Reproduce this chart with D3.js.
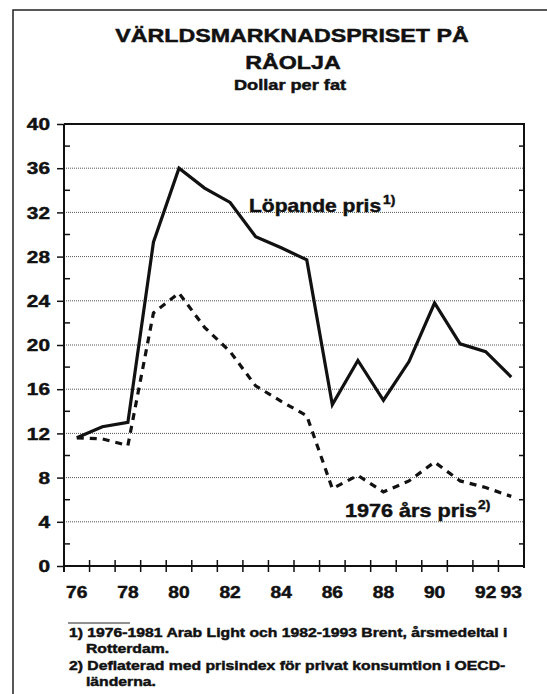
<!DOCTYPE html>
<html>
<head>
<meta charset="utf-8">
<script src="https://cdn.jsdelivr.net/npm/d3@7"></script>
<style>
body { margin: 0; background: #fff; }
text { font-family: "Liberation Sans", Arial, Helvetica, sans-serif; font-weight: bold; fill: #111; stroke: #111; stroke-width: 0.45px; }
</style>
</head>
<body>
<svg id="chart" width="547" height="694"></svg>
<script>
// data
var years = ["76","77","78","79","80","81","82","83","84","85","86","87","88","89","90","91","92","93"];
var lopandePris = [11.6, 12.6, 13.0, 29.3, 36.0, 34.2, 32.9, 29.8, 28.8, 27.7, 14.6, 18.6, 15.0, 18.5, 23.8, 20.1, 19.4, 17.1];
var fastPris = [11.6, 11.5, 10.9, 22.9, 24.7, 21.6, 19.4, 16.3, 14.9, 13.6, 7.0, 8.2, 6.7, 7.7, 9.4, 7.7, 7.1, 6.3];
var xTickLabels = ["76","78","80","82","84","86","88","90","92","93"];
var yTicks = [0, 4, 8, 12, 16, 20, 24, 28, 32, 36, 40];
var yMinorTicks = [2, 6, 10, 14, 18, 22, 26, 30, 34, 38];
var gridValues = [4, 8, 12, 16, 20, 24, 28, 32, 36];
var titleLines = ["VÄRLDSMARKNADSPRISET PÅ", "RÅOLJA"];
var subtitle = "Dollar per fat";
var footnotes = [
  "1) 1976-1981 Arab Light och 1982-1993 Brent, årsmedeltal i",
  "Rotterdam.",
  "2) Deflaterad med prisindex för privat konsumtion i OECD-",
  "länderna."
];

var svg = d3.select("#chart");
// plot box (don't call these top/left, window.top is taken)
var plotL = 64, plotR = 524, plotT = 124, plotB = 566;

var x = d3.scaleBand().domain(years).range([plotL, plotR]);
var y = d3.scaleLinear().domain([0, 40]).range([plotB, plotT]);
var cx = function (d) { return x(d) + x.bandwidth() / 2; };

// text drawn a bit wider, like the scanned original
function stretchedText(str, tx, ty, size, k, anchor) {
  return svg.append("text")
    .attr("transform", "translate(" + tx + "," + ty + ") scale(" + k + ",1)")
    .attr("font-size", size + "px")
    .attr("text-anchor", anchor || "start")
    .text(str);
}

// outer frame (left and top only, the rest is cut off)
svg.append("path")
  .attr("d", "M13,694 L13,10 L547,10")
  .attr("stroke", "#222")
  .attr("stroke-width", 1.5)
  .attr("fill", "none");

// titles
stretchedText(titleLines[0], 292, 42, 18, 1.29, "middle");
stretchedText(titleLines[1], 293, 69, 18, 1.29, "middle");
stretchedText(subtitle, 290, 90, 14, 1.3, "middle");

// dotted grid lines
svg.selectAll(".grid")
  .data(gridValues)
  .enter()
  .append("line")
  .attr("x1", plotL)
  .attr("x2", plotR)
  .attr("y1", d => y(d))
  .attr("y2", d => y(d))
  .attr("stroke", "#555")
  .attr("stroke-width", 1)
  .attr("stroke-dasharray", "1,1");

// plot top and right border
svg.append("path")
  .attr("d", `M ${plotL},${plotT} L ${plotR},${plotT} L ${plotR},${plotB + 2}`)
  .attr("stroke", "#111")
  .attr("stroke-width", 2)
  .attr("fill", "none");

// right side minor ticks pointing inwards
svg.selectAll(".rtick")
  .data(yMinorTicks)
  .enter()
  .append("line")
  .attr("x1", plotR - 5)
  .attr("x2", plotR)
  .attr("y1", d => y(d))
  .attr("y2", d => y(d))
  .attr("stroke", "#111")
  .attr("stroke-width", 1.5);

// y axis
var yAxis = svg.append("g")
  .attr("transform", `translate(${plotL},0)`)
  .call(d3.axisLeft(y).tickValues(yTicks).tickSize(7).tickSizeOuter(0));
yAxis.select(".domain").attr("stroke", "#111").attr("stroke-width", 2)
  .attr("d", `M0,${plotT} L0,${plotB + 6}`);
yAxis.selectAll(".tick line").attr("stroke", "#111").attr("stroke-width", 1.5);
yAxis.selectAll(".tick text")
  .attr("x", null)
  .attr("dy", "0.36em")
  .attr("transform", "translate(-14,0) scale(1.3,1)")
  .attr("font-size", "16px")
  .attr("font-family", null)
  .attr("fill", "#111");

// y minor ticks pointing into the plot
svg.selectAll(".ltick")
  .data(yMinorTicks)
  .enter()
  .append("line")
  .attr("x1", plotL)
  .attr("x2", plotL + 6)
  .attr("y1", d => y(d))
  .attr("y2", d => y(d))
  .attr("stroke", "#111")
  .attr("stroke-width", 1.5);

// x axis line
svg.append("line")
  .attr("x1", plotL)
  .attr("x2", plotR)
  .attr("y1", plotB)
  .attr("y2", plotB)
  .attr("stroke", "#111")
  .attr("stroke-width", 2);

// x ticks at the category edges
svg.selectAll(".xtick")
  .data(years.slice(1))
  .enter()
  .append("line")
  .attr("x1", d => x(d))
  .attr("x2", d => x(d))
  .attr("y1", plotB - 6)
  .attr("y2", plotB + 6)
  .attr("stroke", "#111")
  .attr("stroke-width", 1.5);

// x labels
var xAxis = svg.append("g")
  .attr("transform", `translate(0,${plotB})`)
  .call(d3.axisBottom(x).tickValues(xTickLabels).tickSize(0));
xAxis.select(".domain").remove();
xAxis.selectAll(".tick text")
  .attr("y", null)
  .attr("dy", null)
  .attr("transform", "translate(0,32) scale(1.2,1)")
  .attr("font-size", "16px")
  .attr("font-family", null)
  .attr("fill", "#111");

// series lines
var line = d3.line()
  .x((d, i) => cx(years[i]))
  .y(d => y(d));

svg.append("path")
  .datum(fastPris)
  .attr("d", line)
  .attr("stroke", "#111")
  .attr("stroke-width", 3.2)
  .attr("stroke-dasharray", "7,6")
  .attr("fill", "none");

svg.append("path")
  .datum(lopandePris)
  .attr("d", line)
  .attr("stroke", "#111")
  .attr("stroke-width", 3.2)
  .attr("stroke-linejoin", "miter")
  .attr("fill", "none");

// series labels
stretchedText("Löpande pris", 249, 212, 18, 1.17);
stretchedText("1)", 383, 204, 12, 1.15);
stretchedText("1976 års pris", 345, 517, 18, 1.2);
stretchedText("2)", 478, 509, 12, 1.15);

// footnotes
svg.append("line")
  .attr("x1", 68)
  .attr("x2", 130)
  .attr("y1", 623)
  .attr("y2", 623)
  .attr("stroke", "#222")
  .attr("stroke-width", 1);

var footX = [69, 86, 69, 86];
var footY = [637, 653, 670, 686];
footnotes.forEach(function (t, i) {
  stretchedText(t, footX[i], footY[i], 12.5, 1.26);
});
</script>
</body>
</html>
